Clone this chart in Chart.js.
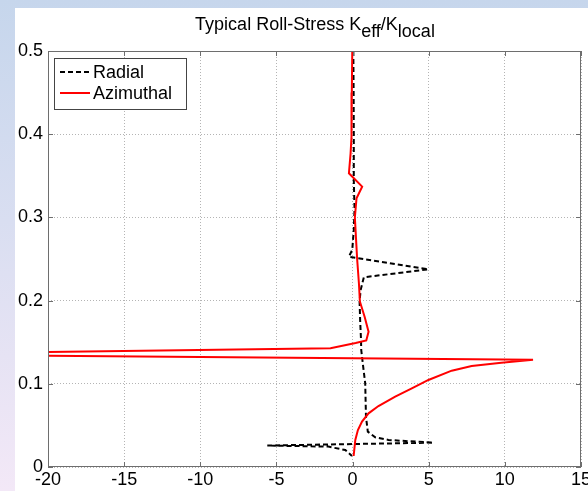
<!DOCTYPE html>
<html>
<head>
<meta charset="utf-8">
<script src="https://cdn.jsdelivr.net/npm/chart.js@4.4.1/dist/chart.umd.min.js"></script>
<style>
  html, body { margin: 0; padding: 0; }
  body {
    width: 588px; height: 491px; overflow: hidden; position: relative;
    background: linear-gradient(to bottom, #c6d6ec 0%, #d9def1 45%, #f3e8f7 100%);
    font-family: "Liberation Sans", Arial, sans-serif;
  }
  #paper { position: absolute; left: 15px; top: 8px; right: 0; bottom: 0; background: #fff; }
  #chart { position: absolute; left: 0; top: 0; }
  #title {
    position: absolute; left: 0; top: 15px; width: 630px;
    text-align: center; font-size: 18px; line-height: 18px; color: #000; white-space: nowrap;
  }
  #title sub { font-size: 18px; vertical-align: -7px; line-height: 0; }
</style>
</head>
<body>
<div id="paper"></div>
<canvas id="chart" width="588" height="491"></canvas>
<div id="title">Typical Roll-Stress K<sub>eff</sub>/K<sub>local</sub></div>
<script>
// axis ticks
const xTicks = [-20, -15, -10, -5, 0, 5, 10, 15];
const yTicks = [0, 0.1, 0.2, 0.3, 0.4, 0.5];

// Radial profile (dashed black), read top to bottom
const radialX = [0.05, 0.07, 0.08, 0.08, 0.1, 0.13, 0.08, -0.02, -0.24, 4.97, 0.74, 0.53, 0.46, 0.5, 0.55, 0.57, 0.7, 0.83, 0.88, 1.0, 1.49, 2.36, 5.3, 0.0, -5.6, -1.6, -0.48, -0.04];
const radialY = [0.5, 0.45, 0.4, 0.345, 0.33, 0.31, 0.285, 0.261, 0.2528, 0.2376, 0.228, 0.2127, 0.199, 0.175, 0.155, 0.1406, 0.12, 0.1006, 0.0605, 0.0425, 0.0357, 0.0325, 0.0292, 0.0276, 0.0258, 0.0245, 0.0204, 0.0132];

// Azimuthal profile (solid red), read top to bottom
const azimX = [-0.02, -0.05, -0.07, -0.13, -0.24, 0.63, 0.26, 0.15, 0.3, 0.42, 0.48, 0.8, 1.05, 0.9, 0.2, -1.45, -20, -26, -20, 0, 11.85, 9.77, 7.82, 6.51, 4.98, 3.89, 2.8, 1.7, 1.05, 0.62, 0.35, 0.18, 0.07];
const azimY = [0.5, 0.45, 0.397, 0.377, 0.353, 0.337, 0.323, 0.3, 0.25, 0.22, 0.199, 0.18, 0.1626, 0.152, 0.149, 0.1427, 0.1383, 0.136, 0.1338, 0.1306, 0.1288, 0.1254, 0.1214, 0.1158, 0.1046, 0.0945, 0.0845, 0.0733, 0.0645, 0.0545, 0.0445, 0.0325, 0.0132];

const toPoints = (xs, ys) => xs.map((x, i) => ({ x: x, y: ys[i] }));

Chart.defaults.font.family = '"Liberation Sans", Arial, sans-serif';
Chart.defaults.font.size = 18;
Chart.defaults.color = '#000';

const AXIS_COLOR = '#6e6e6e';

// box round the plot with inward ticks, like the original
const framePlugin = {
  id: 'frame',
  afterDatasetsDraw(chart) {
    const { ctx, chartArea: a, scales } = chart;
    ctx.save();
    ctx.strokeStyle = AXIS_COLOR;
    ctx.lineWidth = 1;
    ctx.strokeRect(a.left + 0.5, a.top + 0.5, a.right - a.left - 1, a.bottom - a.top - 1);
    ctx.beginPath();
    xTicks.forEach(v => {
      const px = Math.round(scales.x.getPixelForValue(v)) + 0.5;
      ctx.moveTo(px, a.bottom); ctx.lineTo(px, a.bottom - 5);
      ctx.moveTo(px, a.top); ctx.lineTo(px, a.top + 5);
    });
    yTicks.forEach(v => {
      const py = Math.round(scales.y.getPixelForValue(v)) + 0.5;
      ctx.moveTo(a.left, py); ctx.lineTo(a.left + 5, py);
      ctx.moveTo(a.right, py); ctx.lineTo(a.right - 5, py);
    });
    ctx.stroke();
    ctx.restore();
  }
};

// legend box in the upper left corner
const boxLegend = {
  id: 'boxLegend',
  afterDraw(chart) {
    const { ctx } = chart;
    const x0 = 54, y0 = 58, w = 132, h = 51;
    ctx.save();
    ctx.fillStyle = '#fff';
    ctx.fillRect(x0, y0, w, h);
    ctx.strokeStyle = '#444';
    ctx.lineWidth = 1;
    ctx.strokeRect(x0 + 0.5, y0 + 0.5, w, h);
    ctx.font = '18px "Liberation Sans", Arial, sans-serif';
    ctx.textBaseline = 'middle';
    ctx.fillStyle = '#000';
    chart.data.datasets.forEach((ds, i) => {
      const y = y0 + 14 + i * 21;
      ctx.beginPath();
      ctx.strokeStyle = ds.borderColor;
      ctx.lineWidth = ds.borderWidth;
      ctx.setLineDash(ds.borderDash || []);
      ctx.moveTo(x0 + 6, y); ctx.lineTo(x0 + 36, y);
      ctx.stroke();
      ctx.setLineDash([]);
      ctx.fillText(ds.label, x0 + 39, y + 1);
    });
    ctx.restore();
  }
};

new Chart(document.getElementById('chart'), {
  type: 'scatter',
  data: {
    datasets: [
      {
        label: 'Radial',
        data: toPoints(radialX, radialY),
        showLine: true,
        borderColor: '#000',
        borderWidth: 2,
        borderDash: [5, 3],
        pointRadius: 0,
        tension: 0,
        order: 2,
      },
      {
        label: 'Azimuthal',
        data: toPoints(azimX, azimY),
        showLine: true,
        borderColor: '#ff0000',
        borderWidth: 2,
        pointRadius: 0,
        tension: 0,
        order: 1,
      },
    ],
  },
  options: {
    responsive: false,
    animation: false,
    devicePixelRatio: 1,
    layout: { padding: { top: 51, right: 7, left: 0, bottom: 0 } },
    plugins: { legend: { display: false }, tooltip: { enabled: false }, title: { display: false } },
    scales: {
      x: {
        type: 'linear',
        min: -20, max: 15,
        afterBuildTicks: s => { s.ticks = xTicks.map(v => ({ value: v })); },
        afterFit: s => { s.height = 24; s.paddingLeft = 0; s.paddingRight = 0; },
        ticks: { padding: 2, maxRotation: 0, autoSkip: false },
        grid: { color: '#b4b4b4', lineWidth: 1, drawTicks: false },
        border: { display: false, dash: [1, 2] },
      },
      y: {
        type: 'linear',
        min: 0, max: 0.5,
        afterBuildTicks: s => { s.ticks = yTicks.map(v => ({ value: v })); },
        afterFit: s => { s.width = 48; s.paddingTop = 0; s.paddingBottom = 0; },
        ticks: { padding: 5, autoSkip: false },
        grid: { color: '#b4b4b4', lineWidth: 1, drawTicks: false },
        border: { display: false, dash: [1, 2] },
      },
    },
  },
  plugins: [framePlugin, boxLegend],
});
</script>
</body>
</html>
